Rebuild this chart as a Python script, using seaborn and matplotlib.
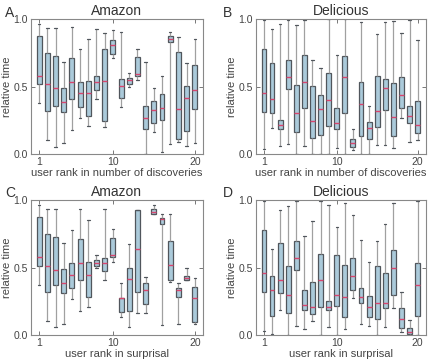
import matplotlib
matplotlib.use("Agg")
import matplotlib.pyplot as plt
import numpy as np
import pandas as pd
import seaborn as sns

ranks = list(range(1, 21))

# per box: [lower whisker, q1, median, q3, upper whisker]
amazon_disc = [
    [0.375, 0.516, 0.578, 0.874, 0.963], [0.104, 0.321, 0.516, 0.746, 0.936],
    [0.054, 0.358, 0.486, 0.726, 0.936], [0.079, 0.309, 0.383, 0.491, 0.684],
    [0.178, 0.410, 0.533, 0.709, 0.938], [0.264, 0.346, 0.449, 0.533, 0.778],
    [0.210, 0.284, 0.449, 0.541, 0.852], [0.410, 0.474, 0.533, 0.578, 0.928],
    [0.202, 0.244, 0.543, 0.775, 0.894], [0.709, 0.738, 0.805, 0.842, 0.919],
    [0.346, 0.412, 0.506, 0.553, 0.906], [0.499, 0.516, 0.546, 0.560, 0.598],
    [0.548, 0.578, 0.593, 0.721, 0.778], [0.000, 0.185, 0.264, 0.358, 0.684],
    [0.165, 0.227, 0.326, 0.393, 0.486], [0.017, 0.252, 0.343, 0.442, 0.578],
    [0.074, 0.827, 0.854, 0.874, 0.904], [0.086, 0.111, 0.331, 0.758, 0.869],
    [0.059, 0.173, 0.417, 0.504, 0.672], [0.079, 0.331, 0.472, 0.657, 0.849],
]
delicious_disc = [
    [0.035, 0.314, 0.454, 0.778, 0.995], [0.190, 0.306, 0.405, 0.677, 0.923],
    [0.059, 0.183, 0.215, 0.252, 0.960], [0.074, 0.479, 0.573, 0.696, 0.995],
    [0.000, 0.165, 0.301, 0.511, 0.953], [0.062, 0.338, 0.531, 0.733, 0.995],
    [0.000, 0.116, 0.244, 0.506, 0.696], [0.000, 0.141, 0.333, 0.437, 0.635],
    [0.000, 0.207, 0.402, 0.598, 1.000], [0.047, 0.183, 0.227, 0.338, 0.733],
    [0.000, 0.306, 0.573, 0.726, 1.000], [0.030, 0.054, 0.079, 0.109, 0.183],
    [0.000, 0.133, 0.373, 0.536, 0.980], [0.000, 0.111, 0.195, 0.240, 0.356],
    [0.067, 0.202, 0.321, 0.578, 0.889], [0.067, 0.326, 0.491, 0.558, 0.980],
    [0.042, 0.133, 0.277, 0.523, 0.985], [0.264, 0.338, 0.440, 0.573, 0.894],
    [0.091, 0.232, 0.284, 0.356, 0.995], [0.104, 0.153, 0.212, 0.395, 0.844],
]
amazon_surp = [
    [0.375, 0.516, 0.580, 0.872, 0.963], [0.104, 0.321, 0.516, 0.746, 0.938],
    [0.057, 0.368, 0.486, 0.728, 0.938], [0.081, 0.309, 0.388, 0.491, 0.684],
    [0.267, 0.346, 0.449, 0.531, 0.778], [0.178, 0.412, 0.536, 0.709, 0.938],
    [0.210, 0.284, 0.449, 0.543, 0.852], [0.494, 0.514, 0.538, 0.556, 0.593],
    [0.412, 0.474, 0.536, 0.575, 0.931], [0.543, 0.580, 0.593, 0.716, 0.783],
    [0.131, 0.173, 0.272, 0.277, 0.388], [0.057, 0.178, 0.415, 0.494, 0.674],
    [0.165, 0.321, 0.635, 0.926, 0.926], [0.165, 0.230, 0.333, 0.388, 0.432],
    [0.901, 0.901, 0.909, 0.931, 0.963], [0.074, 0.827, 0.857, 0.869, 0.901],
    [0.395, 0.412, 0.519, 0.699, 0.901], [0.086, 0.279, 0.333, 0.353, 0.383],
    [0.407, 0.407, 0.425, 0.437, 0.494], [0.086, 0.099, 0.272, 0.358, 0.425],
]
delicious_surp = [
    [0.032, 0.316, 0.457, 0.778, 0.995], [0.007, 0.143, 0.333, 0.440, 0.635],
    [0.190, 0.309, 0.407, 0.679, 0.926], [0.000, 0.165, 0.301, 0.514, 0.956],
    [0.069, 0.481, 0.575, 0.696, 0.995], [0.042, 0.185, 0.227, 0.338, 0.736],
    [0.106, 0.160, 0.210, 0.395, 0.844], [0.000, 0.210, 0.407, 0.600, 0.995],
    [0.057, 0.185, 0.210, 0.254, 0.963], [0.000, 0.217, 0.296, 0.593, 0.802],
    [0.042, 0.136, 0.279, 0.523, 0.980], [0.272, 0.338, 0.437, 0.573, 0.889],
    [0.086, 0.235, 0.284, 0.353, 0.704], [0.069, 0.131, 0.210, 0.289, 0.543],
    [0.000, 0.116, 0.240, 0.511, 0.696], [0.057, 0.202, 0.235, 0.462, 0.822],
    [0.198, 0.301, 0.494, 0.630, 0.980], [0.025, 0.054, 0.116, 0.202, 0.321],
    [0.000, 0.007, 0.025, 0.054, 0.111], [0.000, 0.141, 0.375, 0.536, 0.995],
]

panels = [
    ("A", "Amazon", "user rank in number of discoveries", amazon_disc),
    ("B", "Delicious", "user rank in number of discoveries", delicious_disc),
    ("C", "Amazon", "user rank in surprisal", amazon_surp),
    ("D", "Delicious", "user rank in surprisal", delicious_surp),
]

sns.set_style("ticks")
plt.rcParams["font.family"] = ["Liberation Sans", "DejaVu Sans"]

box_color = "#a3cde2"
edge_color = "#50565c"
whisker_color = "#a0a0a0"
median_color = "#d9456e"
text_color = "#333333"

fig = plt.figure(figsize=(4.3, 3.6), dpi=100)
axes_pos = [
    [0.072, 0.572, 0.400, 0.375],
    [0.595, 0.572, 0.395, 0.375],
    [0.072, 0.069, 0.400, 0.375],
    [0.595, 0.069, 0.395, 0.375],
]
letter_pos = [(0.012, 0.965), (0.518, 0.965), (0.012, 0.463), (0.518, 0.463)]

for (letter, title, xlabel, stats), pos, lpos in zip(panels, axes_pos, letter_pos):
    rows = []
    for r, s in zip(ranks, stats):
        for v in s:
            rows.append({"rank": r, "time": v})
    df = pd.DataFrame(rows)

    ax = fig.add_axes(pos)
    sns.boxplot(data=df, x="rank", y="time", native_scale=True, whis=(0, 100),
                width=0.6, color=box_color, linecolor=edge_color, linewidth=0.9,
                fliersize=0, ax=ax,
                whiskerprops={"color": whisker_color, "linewidth": 0.9},
                medianprops={"color": median_color, "linewidth": 1.0},
                capprops={"color": edge_color, "linewidth": 0.9})
    ax.set_xlim(0, 21)
    ax.set_ylim(0, 1)
    ax.set_xticks([1, 10, 20])
    ax.set_xticklabels(["1", "10", "20"])
    ax.set_yticks([0, 0.5, 1.0])
    ax.set_yticklabels(["0.0", "0.5", "1.0"])
    ax.tick_params(direction="in", top=True, right=True, length=3, width=0.7,
                   labelsize=7.5, colors="#777777", labelcolor="#444444", pad=2)
    for sp in ax.spines.values():
        sp.set_color("#888888")
        sp.set_linewidth(0.8)
    ax.set_xlabel(xlabel, fontsize=8, color="#444444", labelpad=1)
    ax.set_ylabel("relative time", fontsize=8, color="#444444", labelpad=1)
    ax.set_title(title, fontsize=10, color=text_color, pad=3)
    fig.text(lpos[0], lpos[1], letter, fontsize=10, color=text_color,
             ha="left", va="center")

fig.savefig("out.png", dpi=100)
